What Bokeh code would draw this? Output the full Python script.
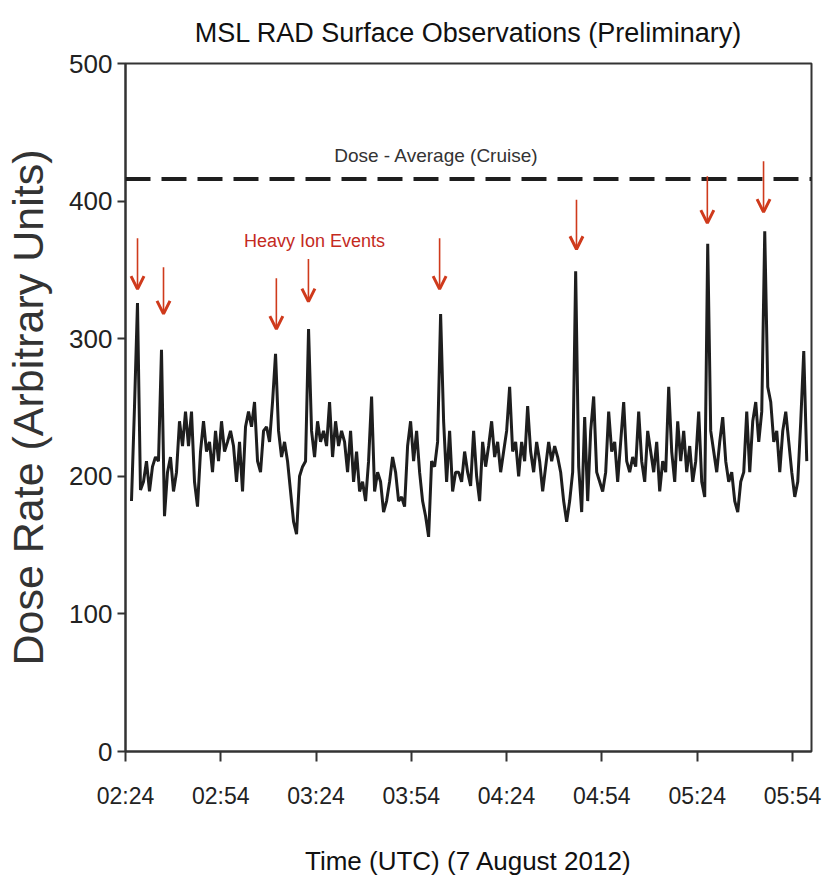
import pandas as pd
from bokeh.plotting import figure
from bokeh.models import (Range1d, FixedTicker, DatetimeTickFormatter, Span, Arrow,
                          OpenHead, Label, ColumnDataSource)
from bokeh.embed import file_html
from bokeh.resources import INLINE

# ---------------- data ----------------
title_text = "MSL RAD Surface Observations (Preliminary)"
x_label = "Time (UTC) (7 August 2012)"
y_label = "Dose Rate (Arbitrary Units)"

day = "2012-08-07"
sample_start = "02:25:53"
sample_step_s = 56.7
dose_rate = [
    182, 250, 326, 190, 196, 211, 189, 207, 214, 211,
    292, 171, 203, 214, 189, 203, 240, 222, 247, 222,
    247, 196, 178, 218, 240, 218, 225, 203, 233, 211,
    240, 218, 225, 233, 222, 196, 225, 189, 236, 247,
    236, 254, 211, 203, 233, 236, 225, 254, 289, 233,
    214, 225, 211, 189, 167, 158, 200, 207, 211, 307,
    233, 214, 240, 225, 233, 222, 254, 214, 240, 222,
    233, 225, 203, 233, 196, 218, 189, 196, 182, 211,
    258, 189, 203, 196, 174, 182, 196, 214, 203, 182,
    185, 178, 222, 240, 211, 233, 203, 182, 171, 156,
    211, 207, 225, 318, 240, 196, 233, 189, 203, 203,
    196, 218, 203, 193, 233, 200, 182, 225, 207, 222,
    240, 214, 225, 203, 218, 233, 265, 218, 225, 200,
    225, 211, 251, 218, 203, 225, 211, 189, 207, 225,
    211, 222, 214, 203, 182, 167, 182, 203, 349, 207,
    174, 243, 182, 233, 258, 203, 196, 189, 203, 247,
    218, 225, 196, 225, 254, 211, 203, 214, 207, 247,
    211, 196, 233, 218, 203, 225, 189, 211, 203, 265,
    218, 196, 240, 211, 233, 203, 222, 196, 211, 247,
    196, 185, 369, 233, 218, 203, 225, 243, 211, 196,
    203, 182, 174, 196, 203, 247, 203, 240, 254, 225,
    247, 378, 265, 254, 225, 233, 203, 233, 247, 225,
    203, 185, 196, 240, 291, 211,
]

cruise_average = 416
cruise_label = "Dose - Average (Cruise)"

events_label = "Heavy Ion Events"
event_times = ["02:27:47", "02:35:58", "03:11:30", "03:21:36",
               "04:02:54", "04:46:00", "05:27:12", "05:44:54"]
event_arrow_top = [373, 352, 344, 358, 373, 401, 418, 429]
event_arrow_tip = [336, 318, 307, 327, 336, 365, 384, 392]

x_tick_labels = ["02:24", "02:54", "03:24", "03:54", "04:24", "04:54", "05:24", "05:54"]
x_start, x_end = "02:24", "06:00"
y_ticks = [0, 100, 200, 300, 400, 500]
y_start, y_end = 0, 500

# ---------------- helpers ----------------
def ms(hms):
    return pd.Timestamp(f"{day} {hms}").value / 1e6

t0 = pd.Timestamp(f"{day} {sample_start}")
times = [t0 + pd.Timedelta(seconds=sample_step_s * i) for i in range(len(dose_rate))]

SANS = "'Liberation Sans', Arial, sans-serif"
RED = "#cf3a1c"
INK = "#1e1e1e"

# ---------------- figure ----------------
p = figure(frame_width=686, frame_height=688, x_axis_type="datetime",
           x_range=Range1d(ms(x_start), ms(x_end)),
           y_range=Range1d(y_start, y_end),
           output_backend="svg", toolbar_location=None)
p.min_border_left = 125
p.min_border_right = 18
p.min_border_top = 62
p.min_border_bottom = 125
p.background_fill_color = "white"
p.border_fill_color = "white"
p.grid.visible = False
p.outline_line_color = "#333333"
p.outline_line_width = 2

p.title.text = title_text
p.title.align = "center"
p.title.text_font = SANS
p.title.text_font_size = "27px"
p.title.text_font_style = "normal"
p.title.text_color = "#111111"
p.title.standoff = 31
p.title.offset = 0

xa = p.xaxis[0]
xa.ticker = FixedTicker(ticks=[ms(t) for t in x_tick_labels])
xa.formatter = DatetimeTickFormatter(minutes="%H:%M", hourmin="%H:%M", hours="%H:%M",
                                     minsec="%H:%M", days="%H:%M")
xa.axis_label = x_label
xa.axis_label_text_font = SANS
xa.axis_label_text_font_size = "26px"
xa.axis_label_text_font_style = "normal"
xa.axis_label_text_color = "#111111"
xa.axis_label_standoff = 34
xa.major_label_text_font = SANS
xa.major_label_text_font_size = "23px"
xa.major_label_text_color = "#222222"
xa.major_label_standoff = 21

ya = p.yaxis[0]
ya.ticker = FixedTicker(ticks=y_ticks)
ya.axis_label = y_label
ya.axis_label_text_font = SANS
ya.axis_label_text_font_size = "43px"
ya.axis_label_text_font_style = "normal"
ya.axis_label_text_color = "#333333"
ya.axis_label_standoff = 14
ya.major_label_text_font = SANS
ya.major_label_text_font_size = "26px"
ya.major_label_text_color = "#222222"
ya.major_label_standoff = 5

for ax in (xa, ya):
    ax.axis_line_color = "#333333"
    ax.axis_line_width = 2
    ax.major_tick_line_color = "#333333"
    ax.major_tick_line_width = 2
    ax.major_tick_in = 0
    ax.minor_tick_line_color = None
xa.major_tick_out = 10
ya.major_tick_out = 8

# dashed cruise average
p.add_layout(Span(location=cruise_average, dimension="width", line_color=INK,
                  line_width=4, line_dash="25 11"))
p.add_layout(Label(x=ms("04:01:54"), y=433, text=cruise_label, text_align="center",
                   text_baseline="middle", text_font=SANS, text_font_size="19px",
                   text_color="#333333"))

# dose rate trace
src = ColumnDataSource(dict(t=times, v=dose_rate))
p.line("t", "v", source=src, line_color=INK, line_width=3)

# heavy-ion event arrows
asrc = ColumnDataSource(dict(x=[ms(t) for t in event_times],
                             y0=event_arrow_top, y1=event_arrow_tip))
p.add_layout(Arrow(source=asrc, x_start="x", y_start="y0", x_end="x", y_end="y1",
                   line_color=RED, line_width=1.6,
                   end=OpenHead(size=13, line_color=RED, line_width=3)))
p.add_layout(Label(x=ms("03:23:30"), y=371, text=events_label, text_align="center",
                   text_baseline="middle", text_font=SANS, text_font_size="18px",
                   text_color="#c42a1e"))

open("out.html", "w").write(file_html(p, INLINE))
